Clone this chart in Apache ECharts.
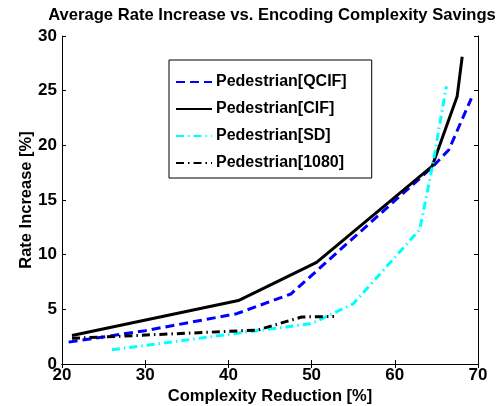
<!DOCTYPE html>
<html>
<head>
<meta charset="utf-8">
<script src="https://cdn.jsdelivr.net/npm/echarts@6/dist/echarts.min.js"></script>
<style>
  html, body { margin: 0; padding: 0; background: #fff; }
  #chart { width: 501px; height: 406px; }
</style>
</head>
<body>
<div id="chart"></div>
<script>
// data: [complexity reduction %, rate increase %]
const qcif = [[20.8, 2.0], [30, 3.05], [41, 4.6], [47.5, 6.4], [64.5, 18.0], [66.5, 19.6], [69.2, 24.3]]
const cif = [[21.2, 2.6], [41.2, 5.8], [50.6, 9.3], [64.5, 18.1], [67.5, 24.5], [68.1, 28.1]]
const sd = [[26, 1.3], [41, 2.8], [50, 3.7], [55, 5.5], [63, 12.3], [64.5, 18.0], [66.2, 25.4]]
const hd1080 = [[21.2, 2.35], [43.5, 3.1], [48.8, 4.3], [52.7, 4.35]]
const seriesNames = ['Pedestrian[QCIF]', 'Pedestrian[CIF]', 'Pedestrian[SD]', 'Pedestrian[1080]']

const font = 'Liberation Sans, Arial, Helvetica, sans-serif'

let chart = echarts.init(document.getElementById('chart'))

function mkLine(name, data, color, type) {
  return {
    name: name,
    type: 'line',
    data: data,
    symbol: 'none',
    showSymbol: false,
    animation: false,
    lineStyle: { color: color, width: 3, type: type },
    itemStyle: { color: color }
  }
}

//边框：上、右两条轴只画刻度
function boxAxis(base, pos) {
  return Object.assign({}, base, {
    position: pos,
    name: '',
    axisLabel: { show: false }
  })
}

const xBase = {
  type: 'value', min: 20, max: 70, interval: 10,
  name: 'Complexity Reduction [%]', nameLocation: 'middle', nameGap: 24, nameMoveOverlap: false,
  nameTextStyle: { fontFamily: font, fontSize: 16.5, fontWeight: 'bold', color: '#000' },
  axisLine: { show: true, lineStyle: { color: '#000', width: 1 } },
  axisTick: { show: true, inside: true, length: 4, lineStyle: { color: '#000' } },
  axisLabel: { fontFamily: font, fontSize: 17, fontWeight: 'bold', color: '#000', margin: 3 },
  splitLine: { show: false }
}
const yBase = {
  type: 'value', min: 0, max: 30, interval: 5,
  name: 'Rate Increase [%]', nameLocation: 'middle', nameGap: 27, nameMoveOverlap: false,
  nameTextStyle: { fontFamily: font, fontSize: 16.5, fontWeight: 'bold', color: '#000' },
  axisLine: { show: true, lineStyle: { color: '#000', width: 1 } },
  axisTick: { show: true, inside: true, length: 4, lineStyle: { color: '#000' } },
  axisLabel: { fontFamily: font, fontSize: 17, fontWeight: 'bold', color: '#000', margin: 5 },
  splitLine: { show: false }
}

let option = {
  backgroundColor: '#fff',
  animation: false,
  title: {
    text: 'Average Rate Increase vs. Encoding Complexity Savings',
    left: 267,
    textAlign: 'center',
    top: 2,
    textStyle: { fontFamily: font, fontSize: 16.6, fontWeight: 'bold', color: '#000' }
  },
  legend: {
    orient: 'vertical',
    left: 169,
    top: 60,
    padding: [14, 25, 7, 6],
    itemGap: 11,
    itemWidth: 36,
    itemHeight: 18,
    borderColor: '#000',
    borderWidth: 1,
    backgroundColor: '#fff',
    itemStyle: { color: 'transparent', borderColor: 'transparent', borderWidth: 0 },
    data: seriesNames,
    textStyle: { fontFamily: font, fontSize: 16, fontWeight: 'bold', color: '#000', padding: [0, 0, 0, -1] }
  },
  grid: { left: 62, right: 23, top: 36, bottom: 42, outerBoundsMode: 'none' },
  xAxis: [xBase, boxAxis(xBase, 'top')],
  yAxis: [yBase, boxAxis(yBase, 'right')],
  series: [
    mkLine(seriesNames[0], qcif, '#0000ff', [9, 5]),
    mkLine(seriesNames[1], cif, '#000000', 'solid'),
    mkLine(seriesNames[2], sd, '#00ffff', [8, 4, 1.5, 4]),
    mkLine(seriesNames[3], hd1080, '#000000', [8, 4, 1.5, 4])
  ]
}
chart.setOption(option)
</script>
</body>
</html>
